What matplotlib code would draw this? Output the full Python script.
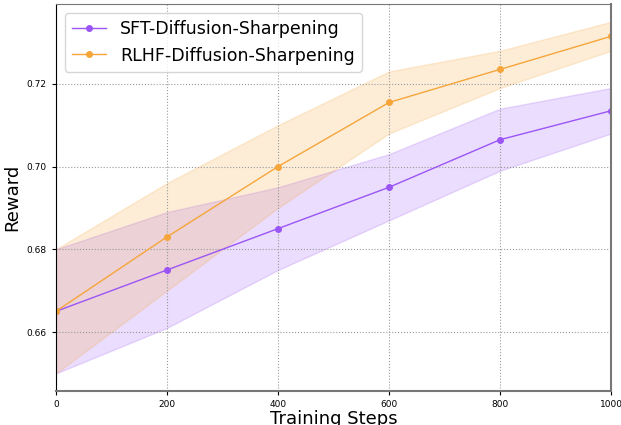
import numpy as np
import matplotlib
matplotlib.use("Agg")
import matplotlib.pyplot as plt

steps = [0, 200, 400, 600, 800, 1000]

sft_mean = [0.665, 0.675, 0.685, 0.695, 0.7065, 0.7135]
sft_low = [0.650, 0.661, 0.675, 0.687, 0.699, 0.708]
sft_high = [0.680, 0.689, 0.695, 0.703, 0.714, 0.719]

rlhf_mean = [0.665, 0.683, 0.700, 0.7155, 0.7235, 0.7315]
rlhf_low = [0.650, 0.670, 0.690, 0.708, 0.719, 0.728]
rlhf_high = [0.680, 0.696, 0.710, 0.723, 0.728, 0.735]

purple = "#9b55f5"
orange = "#f5a53a"

fig = plt.figure(figsize=(6.21, 4.25), dpi=100)
ax = fig.add_axes([0.09, 0.08, 0.894, 0.91])

ax.plot(steps, sft_mean, color=purple, marker="o", markersize=4, linewidth=1,
        label="SFT-Diffusion-Sharpening")
ax.fill_between(steps, sft_low, sft_high, color=purple, alpha=0.2)
ax.plot(steps, rlhf_mean, color=orange, marker="o", markersize=4, linewidth=1,
        label="RLHF-Diffusion-Sharpening")
ax.fill_between(steps, rlhf_low, rlhf_high, color=orange, alpha=0.2)

ax.set_xlim(0, 1000)
ax.set_yticks([0.66, 0.68, 0.70, 0.72])
ax.set_xticks([0, 200, 400, 600, 800, 1000])
ax.tick_params(labelsize=6.5, length=3)
ax.set_xlabel("Training Steps", fontsize=13, labelpad=1)
ax.set_ylabel("Reward", fontsize=13)
ax.grid(True, linestyle=":", color="#999999", linewidth=0.8)

for side in ["bottom", "right", "top"]:
    ax.spines[side].set_color("#777777")
ax.spines["bottom"].set_linewidth(1.5)
ax.spines["right"].set_linewidth(1.5)

ax.legend(loc="upper left", fontsize=12.5)

fig.savefig("out.png", dpi=100)
